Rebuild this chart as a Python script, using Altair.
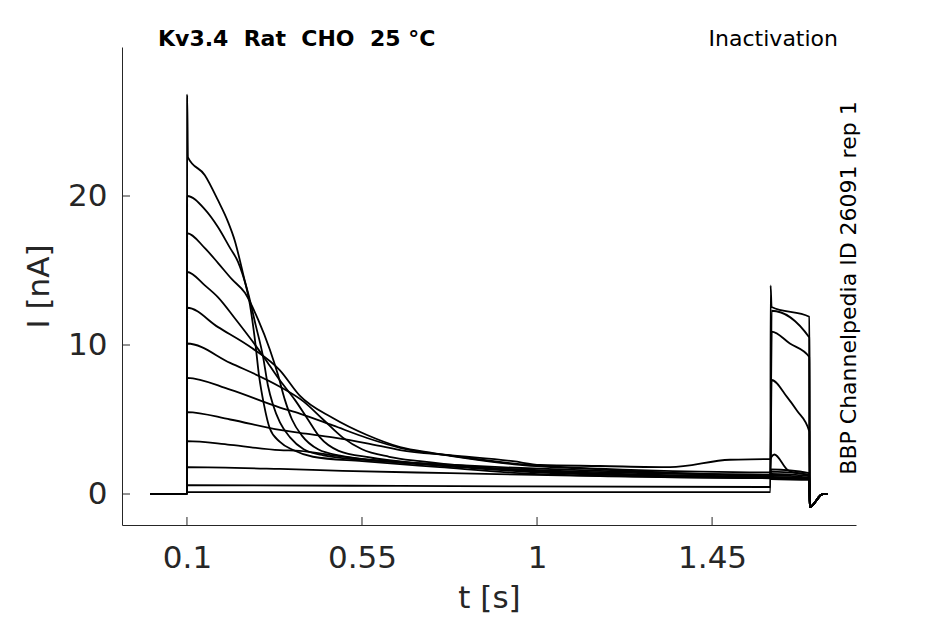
import pandas as pd
import altair as alt

# shared parts of every sweep: holding level before the step, and the tail after the test pulse
pre_t = [0.005, 0.1]
pre_i = [0.0, 0.0]
tail_t = [1.701, 1.735, 1.748]
tail_i = [-0.87, 0.0, 0.0]

# sweeps (t in s, I in nA)
t_a = [0.1005, 0.1026, 0.146, 0.180, 0.205, 0.223, 0.244, 0.262, 0.275, 0.285, 0.298, 0.313,
       0.339, 0.373, 0.424, 0.55, 0.75, 0.956, 1.29, 1.6, 1.602, 1.7]
i_a = [26.8, 22.6, 21.4, 19.7, 18.3, 17.0, 14.8, 12.7, 10.3, 8.0, 6.0, 4.4,
       3.5, 2.95, 2.5, 2.2, 1.8, 1.4, 1.15, 1.05, 1.0, 0.95]

t_b = [0.1005, 0.146, 0.180, 0.211, 0.231, 0.257, 0.277, 0.295, 0.308, 0.321, 0.339, 0.365,
       0.40, 0.45, 0.6, 0.8, 1.0, 1.3, 1.6, 1.602, 1.7]
i_b = [20.0, 19.1, 17.9, 16.5, 15.6, 13.5, 11.3, 9.3, 7.3, 6.0, 4.8, 3.8,
       3.0, 2.6, 2.2, 1.8, 1.45, 1.2, 1.08, 1.05, 1.0]

t_c = [0.1005, 0.146, 0.180, 0.216, 0.249, 0.283, 0.313, 0.334, 0.352, 0.370, 0.396, 0.437,
       0.5, 0.65, 0.85, 1.05, 1.3, 1.6, 1.602, 1.7]
i_c = [17.5, 16.5, 15.5, 14.4, 13.5, 11.7, 9.7, 8.0, 6.3, 5.0, 3.9, 3.0,
       2.55, 2.15, 1.75, 1.45, 1.25, 1.12, 1.15, 1.05]

t_d = [0.1005, 0.146, 0.180, 0.223, 0.267, 0.300, 0.334, 0.378, 0.411, 0.442, 0.49, 0.571,
       0.699, 0.956, 1.29, 1.6, 1.602, 1.7]
i_d = [14.9, 14.0, 13.2, 11.8, 10.3, 9.1, 7.8, 6.3, 5.0, 3.8, 2.9, 2.45,
       2.05, 1.6, 1.3, 1.18, 1.25, 1.1]

t_e = [0.1005, 0.180, 0.267, 0.339, 0.39, 0.475, 0.563, 0.648, 0.733, 0.82, 0.956, 1.162,
       1.368, 1.6, 1.602, 1.7]
i_e = [12.5, 11.2, 9.8, 8.3, 6.6, 5.1, 3.96, 3.15, 2.75, 2.4, 1.95, 1.65,
       1.4, 1.28, 1.35, 1.2]

t_f = [0.1005, 0.211, 0.339, 0.40, 0.45, 0.50, 0.55, 0.62, 0.699, 0.853, 1.059, 1.368,
       1.6, 1.602, 1.7]
i_f = [10.1, 8.8, 7.2, 6.2, 5.0, 3.8, 3.0, 2.5, 2.2, 1.8, 1.55, 1.35,
       1.3, 1.5, 1.3]

t_g = [0.1005, 0.211, 0.339, 0.39, 0.475, 0.563, 0.648, 0.8, 0.956, 1.162, 1.419, 1.6,
       1.602, 1.7]
i_g = [7.8, 7.0, 5.8, 5.4, 4.6, 3.76, 3.1, 2.5, 2.0, 1.7, 1.5, 1.45,
       1.65, 1.4]

t_h = [0.1005, 0.211, 0.339, 0.39, 0.475, 0.563, 0.648, 0.776, 0.938, 1.008, 1.162, 1.342,
       1.496, 1.6, 1.603, 1.610, 1.645, 1.7]
i_h = [5.5, 5.0, 4.3, 4.1, 3.8, 3.4, 2.95, 2.6, 2.2, 1.95, 1.88, 1.8,
       2.3, 2.35, 2.5, 2.65, 1.6, 1.2]

t_i = [0.1005, 0.211, 0.339, 0.39, 0.475, 0.563, 0.75, 0.905, 1.162, 1.419, 1.6, 1.603,
       1.643, 1.668, 1.7]
i_i = [3.55, 3.3, 2.95, 2.9, 2.6, 2.3, 2.0, 1.8, 1.55, 1.34, 1.2, 7.65,
       6.5, 5.6, 4.2]

t_j = [0.1005, 0.339, 0.5, 0.776, 1.162, 1.6, 1.603, 1.65, 1.7]
i_j = [1.8, 1.68, 1.55, 1.4, 1.2, 1.07, 10.9, 10.1, 9.2]

t_k = [0.1005, 0.648, 1.6, 1.603, 1.7]
i_k = [0.6, 0.54, 0.47, 12.3, 10.5]

t_l = [0.1005, 1.6, 1.6005, 1.603, 1.7]
i_l = [0.13, 0.13, 14.0, 12.55, 11.9]

sweeps = {
    "a": (t_a, i_a), "b": (t_b, i_b), "c": (t_c, i_c), "d": (t_d, i_d),
    "e": (t_e, i_e), "f": (t_f, i_f), "g": (t_g, i_g), "h": (t_h, i_h),
    "i": (t_i, i_i), "j": (t_j, i_j), "k": (t_k, i_k), "l": (t_l, i_l),
}

x_ticks = [0.1, 0.55, 1, 1.45]
y_ticks = [0, 10, 20]

title_left = "Kv3.4\u00a0\u00a0Rat\u00a0\u00a0CHO\u00a0\u00a025\u00a0°C"
title_right = "Inactivation"
side_note = "BBP Channelpedia ID 26091 rep 1"

rows = []
for name, (ts, vs) in sweeps.items():
    full_t = pre_t + ts + tail_t
    full_i = pre_i + vs + tail_i
    for k, (t, v) in enumerate(zip(full_t, full_i)):
        rows.append({"sweep": name, "idx": k, "t": t, "I": v})
df = pd.DataFrame(rows)

W, H = 734, 478
FONT = "DejaVu Sans"
INK = "#262626"

x_scale = alt.Scale(domain=[-0.067, 1.82], nice=False, zero=False)
y_scale = alt.Scale(domain=[-2.08, 30.0], nice=False, zero=False)

traces = alt.Chart(df).mark_line(color="black", strokeWidth=1.8, interpolate="monotone").encode(
    x=alt.X("t:Q", scale=x_scale, title="t [s]",
            axis=alt.Axis(values=x_ticks, labelExpr="datum.value + ''", tickSize=0,
                          labelPadding=18, titlePadding=10, grid=False)),
    y=alt.Y("I:Q", scale=y_scale, title="I [nA]",
            axis=alt.Axis(values=y_ticks, tickSize=0, labelPadding=15,
                          titlePadding=12, grid=False)),
    detail="sweep:N",
    order="idx:Q",
)

# inward tick marks
xt = alt.Chart(pd.DataFrame({"v": x_ticks})).mark_rule(color=INK, strokeWidth=1).encode(
    x=alt.X("v:Q", scale=x_scale), y=alt.value(H), y2=alt.value(H - 8)
)
yt = alt.Chart(pd.DataFrame({"v": y_ticks})).mark_rule(color=INK, strokeWidth=1).encode(
    y=alt.Y("v:Q", scale=y_scale), x=alt.value(0), x2=alt.value(8)
)

left_txt = alt.Chart(pd.DataFrame({"s": [title_left]})).mark_text(
    font=FONT, fontSize=22, fontWeight="bold", align="left", baseline="middle", color="black"
).encode(x=alt.value(36), y=alt.value(-8), text="s:N")

right_txt = alt.Chart(pd.DataFrame({"s": [title_right]})).mark_text(
    font=FONT, fontSize=22, align="right", baseline="middle", color="black"
).encode(x=alt.value(716), y=alt.value(-8), text="s:N")

side_txt = alt.Chart(pd.DataFrame({"s": [side_note]})).mark_text(
    font=FONT, fontSize=22, align="center", baseline="middle", angle=270, color="black"
).encode(x=alt.value(727), y=alt.value(241), text="s:N")

chart = alt.layer(traces, xt, yt, left_txt, right_txt, side_txt).properties(
    width=W, height=H,
    background="white",
    autosize=alt.AutoSizeParams(type="none"),
    padding={"left": 114, "top": 39, "right": 80, "bottom": 90},
).configure_view(stroke=None).configure_axis(
    domainColor=INK, domainWidth=1, labelFont=FONT, labelFontSize=31, labelColor=INK,
    titleFont=FONT, titleFontSize=31, titleColor=INK, titleFontWeight="normal",
)

chart.save("out.html", embed_options={"renderer": "svg", "actions": False})
